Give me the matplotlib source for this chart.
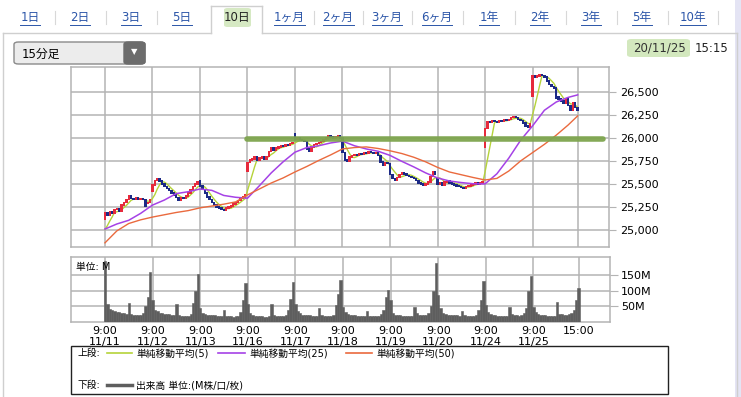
import matplotlib.pyplot as plt
from matplotlib.patches import FancyBboxPatch, Rectangle
from matplotlib.lines import Line2D
import numpy as np
import pandas as pd

# 15-minute bars, 20 per session, 10 sessions (11/11 - 11/25)
days = ["11/11", "11/12", "11/13", "11/16", "11/17", "11/18", "11/19", "11/20", "11/24", "11/25"]

open_ = [
    25120, 25190, 25160, 25200, 25180, 25220, 25230, 25200, 25270, 25300, 25330, 25370, 25340, 25330, 25345, 25335, 25340, 25330, 25290, 25300,
    25420, 25490, 25540, 25560, 25530, 25500, 25470, 25450, 25430, 25400, 25380, 25350, 25320, 25350, 25340, 25370, 25400, 25440, 25470, 25500,
    25540, 25480, 25440, 25400, 25360, 25330, 25300, 25270, 25250, 25240, 25220, 25210, 25240, 25250, 25260, 25280, 25300, 25320, 25340, 25360,
    25640, 25730, 25760, 25770, 25790, 25760, 25780, 25790, 25770, 25800, 25850, 25890, 25870, 25890, 25900, 25920, 25910, 25930, 25920, 25940,
    26050, 25990, 26000, 25980, 25970, 25960, 25880, 25860, 25900, 25930, 25940, 25950, 25960, 25980, 26000, 26020, 26010, 26000, 26010, 26020,
    26000, 25840, 25760, 25750, 25790, 25810, 25820, 25810, 25830, 25820, 25840, 25830, 25850, 25840, 25830, 25840, 25810, 25740, 25700, 25730,
    25720, 25600, 25560, 25540, 25570, 25600, 25620, 25610, 25590, 25580, 25570, 25560, 25540, 25510, 25500, 25490, 25500, 25520, 25580, 25630,
    25560, 25500, 25510, 25490, 25520, 25530, 25510, 25500, 25490, 25480, 25470, 25460, 25450, 25470, 25480, 25490, 25500, 25510, 25500, 25510,
    25900, 26100, 26180, 26170, 26190, 26180, 26170, 26190, 26180, 26200, 26190, 26200, 26220, 26230, 26220, 26200, 26190, 26160, 26130, 26120,
    26450, 26680, 26660, 26670, 26690, 26680, 26660, 26620, 26580, 26560, 26540, 26450, 26420, 26400, 26380, 26420, 26350, 26300, 26380, 26330,
]
close = [
    25190, 25160, 25200, 25180, 25220, 25230, 25200, 25270, 25300, 25330, 25370, 25340, 25330, 25345, 25335, 25340, 25330, 25260, 25300, 25330,
    25490, 25540, 25560, 25530, 25500, 25470, 25450, 25430, 25400, 25380, 25350, 25320, 25350, 25340, 25370, 25400, 25440, 25470, 25500, 25520,
    25480, 25440, 25400, 25360, 25330, 25300, 25270, 25250, 25240, 25220, 25210, 25240, 25250, 25260, 25280, 25300, 25320, 25340, 25360, 25380,
    25730, 25760, 25770, 25790, 25760, 25780, 25790, 25770, 25800, 25850, 25890, 25870, 25890, 25900, 25920, 25910, 25930, 25920, 25940, 25950,
    25990, 26000, 25980, 25970, 25960, 25880, 25860, 25900, 25930, 25940, 25950, 25960, 25980, 26000, 26020, 26010, 26000, 26010, 26020, 26000,
    25840, 25760, 25750, 25790, 25810, 25820, 25810, 25830, 25820, 25840, 25830, 25850, 25840, 25830, 25840, 25810, 25740, 25700, 25730, 25720,
    25600, 25560, 25540, 25570, 25600, 25620, 25610, 25590, 25580, 25570, 25560, 25540, 25510, 25500, 25490, 25500, 25520, 25580, 25630, 25600,
    25500, 25510, 25490, 25520, 25530, 25510, 25500, 25490, 25480, 25470, 25460, 25450, 25470, 25480, 25490, 25500, 25510, 25500, 25510, 25520,
    26100, 26180, 26170, 26190, 26180, 26170, 26190, 26180, 26200, 26190, 26200, 26220, 26230, 26220, 26200, 26190, 26160, 26130, 26120, 26150,
    26680, 26660, 26670, 26690, 26680, 26660, 26620, 26580, 26560, 26540, 26430, 26420, 26400, 26380, 26420, 26350, 26300, 26380, 26330, 26300,
]
prev_closes = [24960, 24950, 24960, 24970]  # last bars before 11/11, for the 5-bar average

volume = [  # M
    195, 58, 42, 38, 35, 33, 31, 30, 28, 26, 62, 25, 23, 22, 22, 23, 28, 50, 80, 160,
    70, 40, 34, 30, 28, 27, 26, 25, 24, 23, 58, 22, 20, 19, 18, 20, 25, 60, 100, 155,
    44, 30, 25, 23, 22, 22, 21, 20, 20, 19, 40, 19, 18, 18, 17, 18, 20, 33, 70, 125,
    57, 30, 22, 20, 19, 18, 18, 17, 17, 18, 59, 22, 20, 19, 19, 20, 24, 38, 75, 129,
    59, 35, 28, 24, 22, 21, 21, 20, 19, 19, 44, 22, 20, 19, 19, 20, 24, 54, 90, 135,
    49, 33, 27, 24, 22, 21, 20, 20, 19, 18, 36, 20, 19, 18, 18, 19, 25, 38, 80, 103,
    70, 30, 24, 22, 21, 20, 20, 19, 19, 18, 47, 28, 24, 22, 22, 24, 30, 50, 100, 190,
    85, 44, 30, 26, 24, 23, 22, 21, 21, 20, 36, 22, 20, 19, 18, 19, 22, 40, 70, 130,
    55, 32, 25, 22, 21, 20, 19, 19, 18, 18, 49, 26, 22, 21, 20, 22, 28, 45, 100, 148,
    49, 33, 26, 23, 22, 21, 20, 19, 19, 18, 63, 26, 25, 24, 24, 25, 30, 40, 70, 109,
]

# 25 / 50 bar moving averages every 5 bars
ma_idx = [0, 5, 10, 15, 20, 25, 30, 35, 40, 45, 50, 55, 60, 65, 70, 75, 80, 85, 90, 95, 100,
          105, 110, 115, 120, 125, 130, 135, 140, 145, 150, 155, 160, 165, 170, 175, 180, 185, 190, 195, 199]
ma25 = [25010, 25065, 25105, 25180, 25270, 25325, 25395, 25415, 25445, 25430, 25375, 25355, 25345, 25480,
        25620, 25740, 25845, 25895, 25915, 25945, 25965, 25915, 25880, 25855, 25810, 25745, 25685, 25620,
        25565, 25532, 25515, 25502, 25500, 25610, 25780, 25975, 26130, 26300, 26390, 26440, 26467]
ma50 = [24860, 24990, 25070, 25110, 25140, 25165, 25190, 25210, 25240, 25260, 25280, 25305, 25380, 25445,
        25510, 25565, 25630, 25690, 25755, 25815, 25880, 25895, 25902, 25885, 25860, 25830, 25790, 25740,
        25680, 25630, 25600, 25570, 25543, 25560, 25640, 25750, 25840, 25930, 26030, 26140, 26239]

level_price = 25990       # hand-drawn horizontal line
level_from, level_to = 60, 209.5

tabs = ["1日", "2日", "3日", "5日", "10日", "1ヶ月", "2ヶ月", "3ヶ月", "6ヶ月", "1年", "2年", "3年", "5年", "10年"]
tab_x = [30, 80, 131, 182, 237, 289, 338, 387, 437, 489, 540, 591, 642, 693]

UP, DOWN = "#e62a3c", "#1c2a86"
C5, C25, C50 = "#b5d33a", "#a542e6", "#ea6a3e"
GRID = "#b4b4b4"

plt.rcParams['font.family'] = ['DejaVu Sans', 'Noto Sans CJK JP']

W, H = 741, 397
fig = plt.figure(figsize=(W / 100, H / 100), dpi=100)


def fx(x):
    return x / W


def fy(y):
    return 1 - y / H


n = len(close)
x = np.arange(n)
o = np.array(open_, dtype=float)
c = np.array(close, dtype=float)
ma5 = pd.Series(prev_closes + close).rolling(5).mean().iloc[len(prev_closes):].to_numpy()
ticks = [i * 20 for i in range(len(days))] + [n - 1]
xlim = (-14.3, 212.2)

# --- price panel ---
ax = fig.add_axes([fx(71), fy(247), fx(609) - fx(71), fy(67) - fy(247)])
ax.set_xlim(*xlim)
ax.set_ylim(24815, 26770)
ax.set_xticks(ticks)
ax.set_yticks([25000, 25250, 25500, 25750, 26000, 26250, 26500])
ax.set_yticklabels([f"{v:,}" for v in ax.get_yticks()])
ax.yaxis.tick_right()
ax.tick_params(axis="y", length=5, color=GRID, labelsize=8, pad=3)
ax.tick_params(axis="x", length=0, labelbottom=False)
ax.grid(True, color=GRID, lw=1.1)
ax.set_axisbelow(True)
for s in ax.spines.values():
    s.set_color(GRID)
    s.set_linewidth(1.1)

ax.plot(x, ma5, color=C5, lw=1.0, zorder=2.5)
# candle bodies, padded a little so small moves stay visible like in the source
lo = np.minimum(o, c) - 8
body = np.abs(c - o) + 16
up = c >= o
ax.bar(x[up], body[up], bottom=lo[up], width=1.0, color=UP, lw=0, zorder=3)
ax.bar(x[~up], body[~up], bottom=lo[~up], width=1.0, color=DOWN, lw=0, zorder=3)

ax.plot(ma_idx, ma25, color=C25, lw=1.1, zorder=4)
ax.plot(ma_idx, ma50, color=C50, lw=1.0, zorder=4)
ax.plot([level_from, level_to], [level_price, level_price], color="#7ea54e", lw=4, alpha=0.95,
        solid_capstyle="round", zorder=5, clip_on=False)

# --- volume panel ---
av = fig.add_axes([fx(71), fy(322), fx(610) - fx(71), fy(257) - fy(322)])
av.set_xlim(*xlim)
av.set_ylim(0, 208)
av.bar(x, volume, width=1.0, color="#5e5e5e", ec="#5e5e5e", lw=0.4, zorder=3)
av.set_xticks(ticks)
av.set_xticklabels([f"9:00\n{d}" for d in days] + ["15:00"], fontsize=8, linespacing=1.1)
av.set_yticks([50, 100, 150])
av.set_yticklabels(["50M", "100M", "150M"])
av.yaxis.tick_right()
av.tick_params(axis="y", length=6, color=GRID, labelsize=8, pad=2)
av.tick_params(axis="x", length=0, pad=3)
av.grid(True, color=GRID, lw=1.1)
av.set_axisbelow(True)
for s in av.spines.values():
    s.set_color(GRID)
    s.set_linewidth(1.1)
av.text(0.01, 0.93, "単位: M", transform=av.transAxes, fontsize=7, va="top", ha="left", zorder=5)

# --- legend box ---
fig.add_artist(Rectangle((fx(71), fy(394)), fx(668) - fx(71), fy(346) - fy(394),
                         transform=fig.transFigure, fill=False, ec="#222222", lw=1))
fig.text(fx(77), fy(353), "上段:", fontsize=7, va="center")
fig.text(fx(77), fy(385), "下段:", fontsize=7, va="center")
for x0, x1, col, lbl in [(107, 132, C5, "単純移動平均(5)"), (218, 245, C25, "単純移動平均(25)"),
                         (346, 372, C50, "単純移動平均(50)")]:
    fig.add_artist(Line2D([fx(x0), fx(x1)], [fy(353), fy(353)], color=col, lw=1.2))
    fig.text(fx(x1 + 4), fy(353), lbl, fontsize=7, va="center")
fig.add_artist(Line2D([fx(107), fx(132)], [fy(385), fy(385)], color="#5e5e5e", lw=2.5))
fig.text(fx(136), fy(385), "出来高 単位:(M株/口/枚)", fontsize=7, va="center")

# --- page frame and tabs ---
fig.add_artist(Rectangle((fx(735), 0), fx(6), 1, transform=fig.transFigure, color="#e4e4f4", lw=0))
for seg in [([3, 211], [33, 33]), ([262, 737], [33, 33]), ([3, 3], [33, 397]), ([737, 737], [33, 397]),
            ([211, 211], [6, 33]), ([262, 262], [6, 33]), ([211, 262], [6, 6])]:
    fig.add_artist(Line2D([fx(v) for v in seg[0]], [fy(v) for v in seg[1]], color="#cfcfcf", lw=1))
fig.add_artist(FancyBboxPatch((fx(224), fy(27)), fx(27), fy(8) - fy(27), boxstyle="round,pad=0,rounding_size=0.005",
                              transform=fig.transFigure, fc="#d6e9c3", ec="none"))
tab_texts = []
for lbl, tx in zip(tabs, tab_x):
    active = lbl == "10日"
    t = fig.text(fx(tx), fy(17), lbl, fontsize=8.5, ha="center", va="center",
                 color="#222222" if active else "#2b55a8")
    if not active:
        tab_texts.append(t)
for i in range(len(tab_x) - 1):
    if tabs[i] == "10日" or tabs[i + 1] == "10日":
        continue
    mid = (tab_x[i] + tab_x[i + 1]) / 2
    fig.add_artist(Line2D([fx(mid), fx(mid)], [fy(11), fy(24)], color="#d8d8d8", lw=0.8))
fig.add_artist(Line2D([fx(718), fx(718)], [fy(11), fy(24)], color="#d8d8d8", lw=0.8))

# dropdown
fig.add_artist(FancyBboxPatch((fx(14), fy(64)), fx(131), fy(42) - fy(64), boxstyle="round,pad=0,rounding_size=0.006",
                              transform=fig.transFigure, fc="#ececec", ec="#8a8a8a", lw=1))
fig.add_artist(FancyBboxPatch((fx(124), fy(64)), fx(21), fy(42) - fy(64), boxstyle="round,pad=0,rounding_size=0.006",
                              transform=fig.transFigure, fc="#6c6c6c", ec="#6c6c6c", lw=1))
fig.text(fx(134), fy(52), "▼", fontsize=6, color="white", ha="center", va="center")
fig.text(fx(22), fy(54), "15分足", fontsize=8.5, va="center")

# timestamp
fig.add_artist(FancyBboxPatch((fx(627), fy(57)), fx(63), fy(39) - fy(57), boxstyle="round,pad=0,rounding_size=0.006",
                              transform=fig.transFigure, fc="#d3e8be", ec="none"))
fig.text(fx(659), fy(48), "20/11/25", fontsize=8.5, ha="center", va="center", color="#333333")
fig.text(fx(712), fy(48), "15:15", fontsize=8.5, ha="center", va="center", color="#222222")

# underline the tab links
fig.canvas.draw()
r = fig.canvas.get_renderer()
for t in tab_texts:
    bb = t.get_window_extent(r).transformed(fig.transFigure.inverted())
    fig.add_artist(Line2D([bb.x0, bb.x1], [bb.y0 - 0.004, bb.y0 - 0.004], color="#2b55a8", lw=0.7))

fig.savefig("out.png", dpi=100)
